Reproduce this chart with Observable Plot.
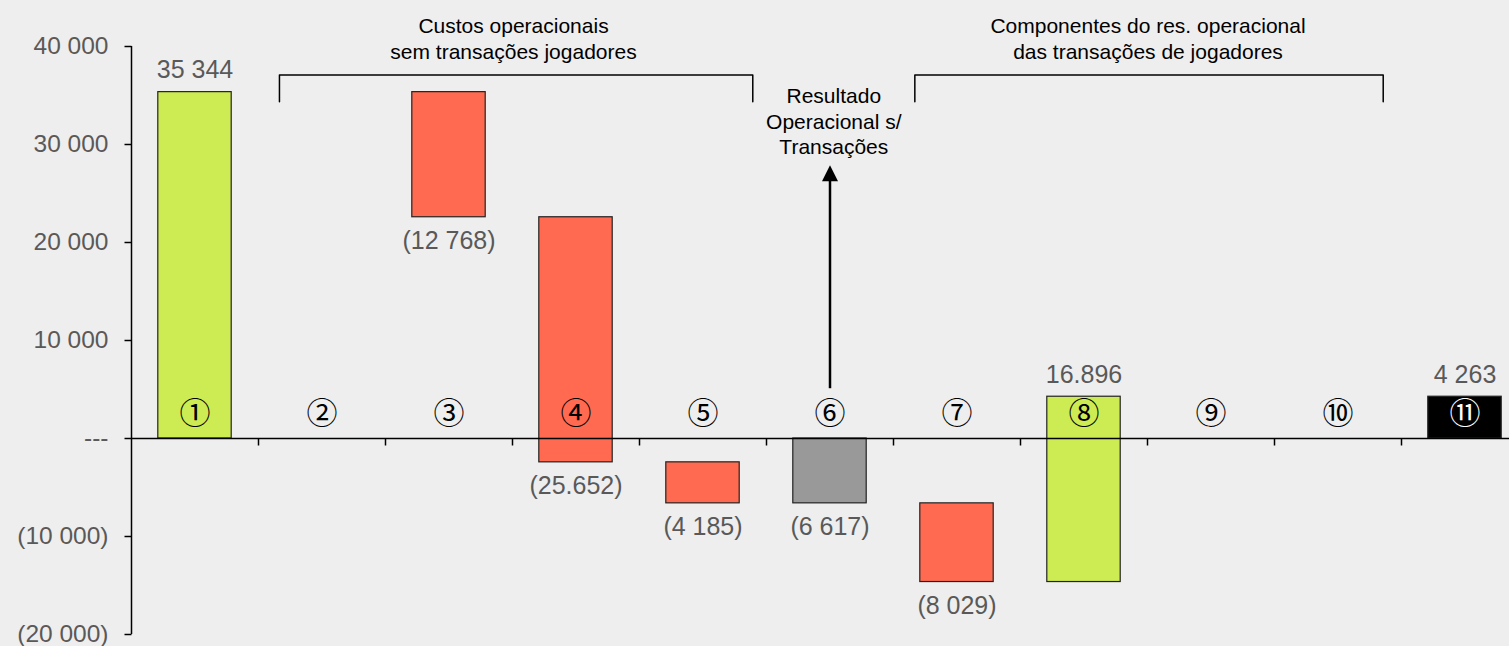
<!DOCTYPE html>
<html>
<head>
<meta charset="utf-8">
<script src="https://cdn.jsdelivr.net/npm/d3@7"></script>
<script src="https://cdn.jsdelivr.net/npm/@observablehq/plot@0.6"></script>
<style>
  html, body { margin: 0; padding: 0; background: #eeeeee; }
  #chart svg { display: block; background: #eeeeee; }
</style>
</head>
<body>
<div id="chart"></div>
<script>
// ---- Data ----
const categories = ["①","②","③","④","⑤","⑥","⑦","⑧","⑨","⑩","⑪"];
const barStart = [0, null, 35344, 22576, -2432, 0, -6617, -14646, null, null, 0];
const barEnd   = [35344, null, 22576, -2432, -6617, -6617, -14646, 4263, null, null, 4263];
const barKind  = ["increase", null, "decrease", "decrease", "decrease", "subtotal", "decrease", "increase", null, null, "total"];
const valueLabels = ["35 344", "", "(12 768)", "(25.652)", "(4 185)", "(6 617)", "(8 029)", "16.896", "", "", "4 263"];

const yTicks = [40000, 30000, 20000, 10000, 0, -10000, -20000];
const yTickLabels = ["40 000", "30 000", "20 000", "10 000", "---", "(10 000)", "(20 000)"];

const groupTitles = ["Custos operacionais\nsem transações jogadores", "Componentes do res. operacional\ndas transações de jogadores"];
const groupTitleX = [3.508, 8.504];
const groupTitleY = [40950, 40950];
const bracketFrom = [1.665, 6.668];
const bracketTo   = [5.392, 10.356];
const bracketTop  = [37100, 37100];
const bracketLeg  = [34350, 34350];

const resultLabel = ["Resultado\nOperacional s/\nTransações"];
const resultLabelX = [6.03];
const resultLabelY = [32450];
const arrowX = [6];
const arrowFrom = [5080];
const arrowTo = [27870];

// ---- Build tables ----
const rows = categories.map((c, i) => ({
  idx: i + 1, label: c, start: barStart[i], end: barEnd[i], kind: barKind[i], text: valueLabels[i]
}));
const bars = rows.filter(d => d.kind);
const labelsAbove = rows.filter(d => d.text && d.end > d.start);
const labelsBelow = rows.filter(d => d.text && !(d.end > d.start));
const bracketPts = bracketFrom.flatMap((f, i) => [
  {g: i, x: f, y: bracketLeg[i]},
  {g: i, x: f, y: bracketTop[i]},
  {g: i, x: bracketTo[i], y: bracketTop[i]},
  {g: i, x: bracketTo[i], y: bracketLeg[i]}
]);
const boundaries = d3.range(1.5, categories.length, 1);
const barHalf = 0.289;

const tickLeft = {draw(ctx) { ctx.moveTo(-7, 0); ctx.lineTo(0, 0); }};
const tickDown = {draw(ctx) { ctx.moveTo(0, 0); ctx.lineTo(0, 7); }};
const arrowHead = {draw(ctx) { ctx.moveTo(0, 0); ctx.lineTo(-8, 16); ctx.lineTo(8, 16); ctx.closePath(); }};

const font = "'Liberation Sans', Arial, Helvetica, sans-serif";

const chart = Plot.plot({
  width: 1509,
  height: 646,
  marginTop: 46,
  marginBottom: 12,
  marginLeft: 131,
  marginRight: 0,
  style: {background: "#eeeeee", fontFamily: font, overflow: "visible"},
  x: {type: "linear", domain: [0.5, categories.length + 0.5], range: [131, 1528], axis: null},
  y: {domain: [d3.min(yTicks), d3.max(yTicks)], axis: null},
  color: {domain: ["increase", "decrease", "subtotal", "total"], range: ["#cdeb52", "#ff6a50", "#999999", "#000000"]},
  marks: [
    Plot.rectY(bars, {x1: d => d.idx - barHalf, x2: d => d.idx + barHalf, y1: "start", y2: "end", fill: "kind", stroke: "#222", strokeWidth: 1.2}),
    Plot.ruleY([0], {stroke: "black", strokeWidth: 1.5}),
    Plot.ruleX([0.5], {y1: d3.min(yTicks), y2: d3.max(yTicks), stroke: "black", strokeWidth: 1.5}),
    Plot.dot(yTicks, {x: 0.5, y: d => d, symbol: tickLeft, fill: "none", stroke: "black", strokeWidth: 1.5}),
    Plot.dot(boundaries, {x: d => d, y: 0, symbol: tickDown, fill: "none", stroke: "black", strokeWidth: 1.5}),
    Plot.text(yTicks, {x: 0.5, y: d => d, text: (d, i) => yTickLabels[i], textAnchor: "end", dx: -23, fill: "#595959", fontSize: 24.5}),
    Plot.text(rows, {x: "idx", y: 0, text: "label", dy: -24, fontSize: 31, fontFamily: "'Noto Sans CJK JP', 'DejaVu Sans', sans-serif", fill: d => d.kind === "total" ? "white" : "black"}),
    Plot.text(labelsAbove, {x: "idx", y: "end", text: "text", dy: -22, fontSize: 25, fill: "#595959"}),
    Plot.text(labelsBelow, {x: "idx", y: d => Math.min(d.start, d.end), text: "text", dy: 24, fontSize: 25, fill: "#595959"}),
    Plot.line(bracketPts, {x: "x", y: "y", z: "g", stroke: "black", strokeWidth: 1.5}),
    Plot.text(groupTitles, {x: (d, i) => groupTitleX[i], y: (d, i) => groupTitleY[i], text: d => d, fontSize: 21, lineHeight: 1.24, fill: "black"}),
    Plot.text(resultLabel, {x: (d, i) => resultLabelX[i], y: (d, i) => resultLabelY[i], text: d => d, fontSize: 21, lineHeight: 1.22, fill: "black"}),
    Plot.ruleX(arrowX, {x: d => d, y1: (d, i) => arrowFrom[i], y2: (d, i) => arrowTo[i] - 1000, stroke: "black", strokeWidth: 2.5}),
    Plot.dot(arrowX, {x: d => d, y: (d, i) => arrowTo[i], symbol: arrowHead, fill: "black", stroke: "none"})
  ]
});
document.getElementById("chart").appendChild(chart);
</script>
</body>
</html>
